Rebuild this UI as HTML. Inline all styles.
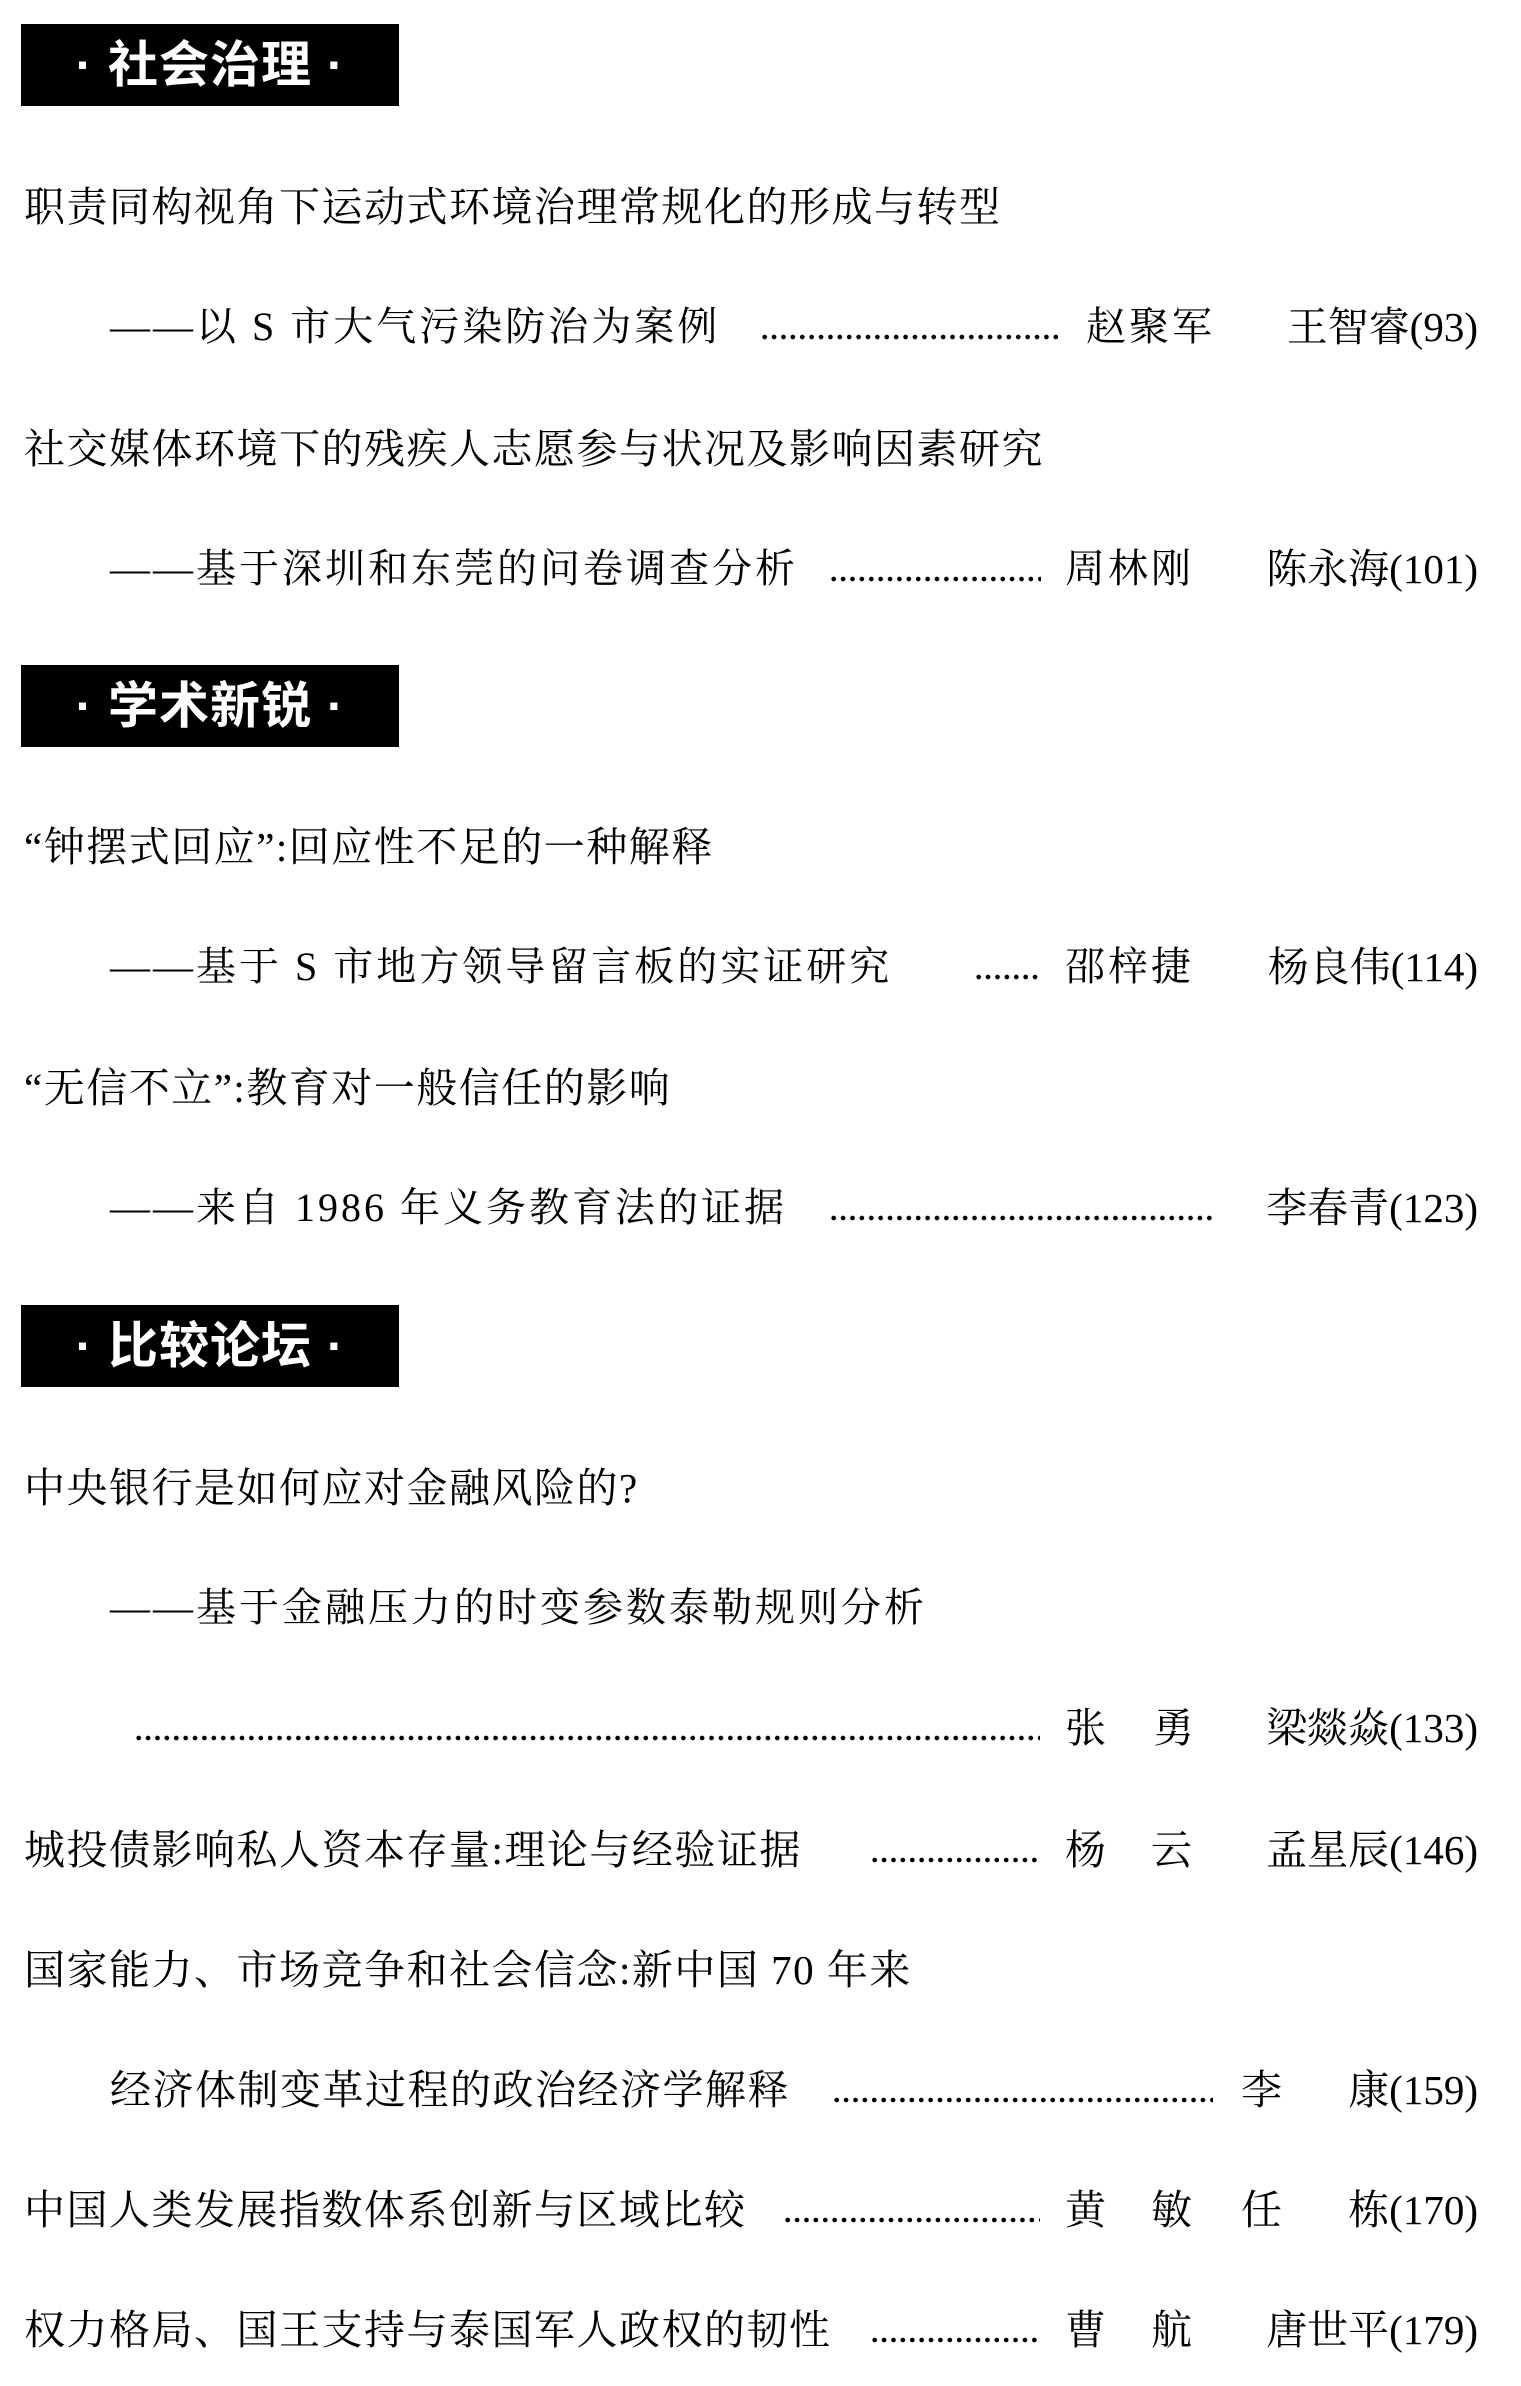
<!DOCTYPE html>
<html><head><meta charset="utf-8"><style>
html,body{margin:0;padding:0;background:#fff;}
body{width:1521px;height:2386px;position:relative;overflow:hidden;font-family:"Liberation Serif","Noto Serif CJK SC",serif;color:#000;}
.box{position:absolute;left:21px;width:378px;height:82px;background:#000;color:#fff;font-family:"Liberation Sans","Noto Sans CJK SC",sans-serif;font-weight:bold;font-size:50px;line-height:82px;text-align:center;letter-spacing:1px;}
.t{position:absolute;height:52px;line-height:52px;font-size:41px;white-space:nowrap;letter-spacing:1.5px;}
.s{letter-spacing:3px;font-size:40px;}
.d{position:absolute;height:52px;background-image:radial-gradient(circle,#000 2px,transparent 2.6px);background-size:9.4px 8px;background-repeat:repeat-x;background-position:0 32px;}
.rr{right:43px;letter-spacing:0;}
</style></head><body>
<div class="box" style="top:24px">· 社会治理 ·</div>
<div class="box" style="top:665px">· 学术新锐 ·</div>
<div class="box" style="top:1305px">· 比较论坛 ·</div>

<div class="t" style="left:24px;top:181px">职责同构视角下运动式环境治理常规化的形成与转型</div>
<div class="t s" style="left:110px;top:301px">——以 S 市大气污染防治为案例</div>
<div class="d" style="left:760px;width:300px;top:301px"></div>
<div class="t s" style="left:1086px;top:301px">赵聚军</div>
<div class="t rr" style="top:301px">王智睿(93)</div>

<div class="t" style="left:24px;top:423px">社交媒体环境下的残疾人志愿参与状况及影响因素研究</div>
<div class="t s" style="left:110px;top:543px">——基于深圳和东莞的问卷调查分析</div>
<div class="d" style="left:829px;width:212px;top:543px"></div>
<div class="t s" style="left:1065px;top:543px">周林刚</div>
<div class="t rr" style="top:543px">陈永海(101)</div>

<div class="t" style="left:24px;top:821px">“钟摆式回应”:回应性不足的一种解释</div>
<div class="t s" style="left:110px;top:941px">——基于 S 市地方领导留言板的实证研究</div>
<div class="d" style="left:974px;width:66px;top:941px"></div>
<div class="t s" style="left:1065px;top:941px">邵梓捷</div>
<div class="t rr" style="top:941px">杨良伟(114)</div>

<div class="t" style="left:24px;top:1062px">“无信不立”:教育对一般信任的影响</div>
<div class="t s" style="left:110px;top:1182px">——来自 1986 年义务教育法的证据</div>
<div class="d" style="left:829px;width:384px;top:1182px"></div>
<div class="t rr" style="top:1182px">李春青(123)</div>

<div class="t" style="left:24px;top:1462px">中央银行是如何应对金融风险的?</div>
<div class="t s" style="left:110px;top:1582px">——基于金融压力的时变参数泰勒规则分析</div>
<div class="d" style="left:134px;width:906px;top:1702px"></div>
<div class="t" style="left:1065px;top:1702px">张</div>
<div class="t" style="left:1153px;top:1702px">勇</div>
<div class="t rr" style="top:1702px">梁燚焱(133)</div>

<div class="t" style="left:24px;top:1824px">城投债影响私人资本存量:理论与经验证据</div>
<div class="d" style="left:870px;width:170px;top:1824px"></div>
<div class="t" style="left:1065px;top:1824px">杨</div>
<div class="t" style="left:1151px;top:1824px">云</div>
<div class="t rr" style="top:1824px">孟星辰(146)</div>

<div class="t" style="left:24px;top:1944px">国家能力、市场竞争和社会信念:新中国 70 年来</div>
<div class="t" style="left:110px;top:2064px">经济体制变革过程的政治经济学解释</div>
<div class="d" style="left:832px;width:381px;top:2064px"></div>
<div class="t" style="left:1241px;top:2064px">李</div>
<div class="t rr" style="top:2064px">康(159)</div>

<div class="t" style="left:24px;top:2184px">中国人类发展指数体系创新与区域比较</div>
<div class="d" style="left:783px;width:257px;top:2184px"></div>
<div class="t" style="left:1065px;top:2184px">黄</div>
<div class="t" style="left:1151px;top:2184px">敏</div>
<div class="t" style="left:1241px;top:2184px">任</div>
<div class="t rr" style="top:2184px">栋(170)</div>

<div class="t" style="left:24px;top:2304px">权力格局、国王支持与泰国军人政权的韧性</div>
<div class="d" style="left:870px;width:170px;top:2304px"></div>
<div class="t" style="left:1065px;top:2304px">曹</div>
<div class="t" style="left:1151px;top:2304px">航</div>
<div class="t rr" style="top:2304px">唐世平(179)</div>
</body></html>
